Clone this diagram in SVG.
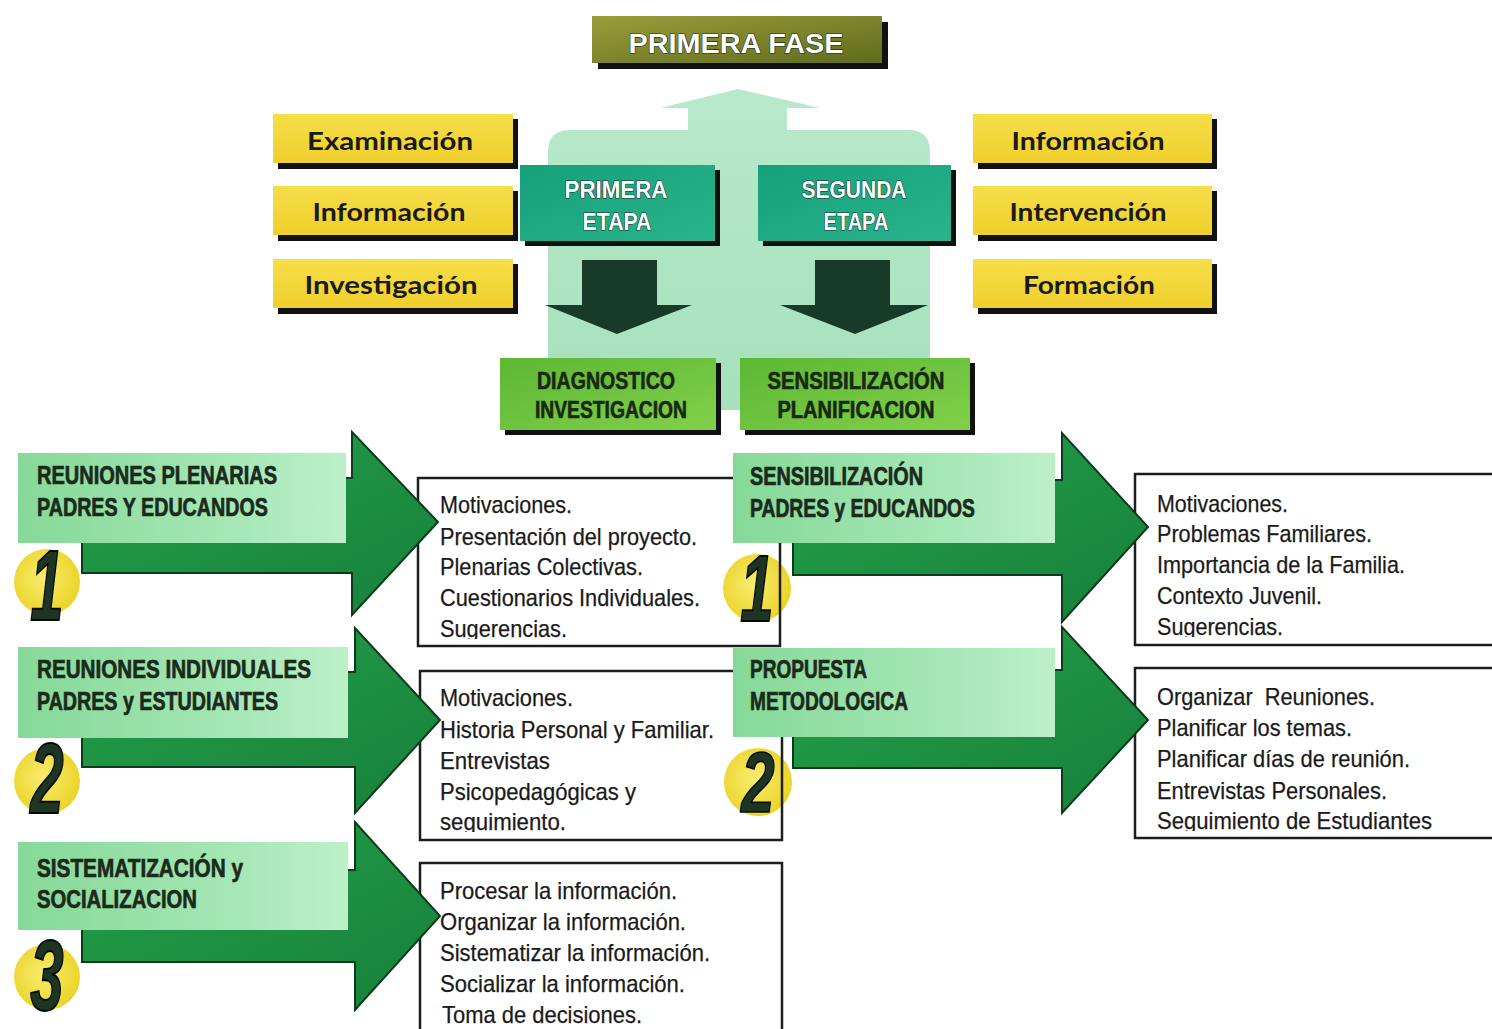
<svg xmlns="http://www.w3.org/2000/svg" width="1492" height="1029" viewBox="0 0 1492 1029">
<defs>
<linearGradient id="gFase" x1="0" y1="0" x2="1" y2="1"><stop offset="0" stop-color="#9c9d3a"/><stop offset="1" stop-color="#5f6c1d"/></linearGradient>
<linearGradient id="gEtapa" x1="0" y1="0" x2="1" y2="1"><stop offset="0" stop-color="#16a07a"/><stop offset="1" stop-color="#2ab48c"/></linearGradient>
<linearGradient id="gDiag" x1="0" y1="0" x2="1" y2="1"><stop offset="0" stop-color="#5cb733"/><stop offset="1" stop-color="#82d04a"/></linearGradient>
<linearGradient id="gYel" x1="0" y1="0" x2="0" y2="1"><stop offset="0" stop-color="#f6de4a"/><stop offset="1" stop-color="#efcf2c"/></linearGradient>
<linearGradient id="gHdr" x1="0" y1="0" x2="1" y2="0"><stop offset="0" stop-color="#86d898"/><stop offset="0.7" stop-color="#a8e8b8"/><stop offset="1" stop-color="#bdf0c9"/></linearGradient>
<linearGradient id="gArr" x1="0" y1="0" x2="1" y2="1"><stop offset="0" stop-color="#25a04c"/><stop offset="1" stop-color="#17803a"/></linearGradient>
<linearGradient id="gBack" x1="0" y1="0" x2="0" y2="1"><stop offset="0" stop-color="#b9e9cb"/><stop offset="1" stop-color="#a6e0bc"/></linearGradient>
<radialGradient id="gCirc" cx="0.45" cy="0.45" r="0.6"><stop offset="0" stop-color="#f8ec70"/><stop offset="1" stop-color="#ead224"/></radialGradient>
<clipPath id="cL1"><rect x="418" y="478" width="362" height="161"/></clipPath>
<clipPath id="cL2"><rect x="420" y="671" width="362" height="161"/></clipPath>
<clipPath id="cL3"><rect x="420" y="863" width="362" height="166"/></clipPath>
<clipPath id="cR1"><rect x="1135" y="474" width="357" height="163"/></clipPath>
<clipPath id="cR2"><rect x="1135" y="668" width="357" height="163"/></clipPath>
</defs>
<style>
.sh{fill:#111}
.ytx{font-family:Lato,"Liberation Sans",Arial,sans-serif;font-weight:bold;font-size:25px;fill:#1a1a14;text-anchor:middle}
.wtx{font-family:"Liberation Sans",Arial,sans-serif;font-weight:bold;fill:#fff;stroke:#12302a;stroke-width:1.2;paint-order:stroke;text-anchor:middle}
.dtx{font-family:"Liberation Sans",Arial,sans-serif;font-weight:bold;font-size:23px;fill:#182812;stroke:#182812;stroke-width:0.6;text-anchor:middle}
.htx{font-family:"Liberation Sans",Arial,sans-serif;font-weight:bold;font-size:26px;fill:#1b2a1b;stroke:#1b2a1b;stroke-width:0.7}
.itx{font-family:"Liberation Sans Narrow","Liberation Sans",Arial,sans-serif;font-size:24px;fill:#1a1a1a;stroke:#1a1a1a;stroke-width:0.25}
.box{fill:none;stroke:#1e1e1e;stroke-width:2.5}
.arr{fill:url(#gArr);stroke:#0b3b1a;stroke-width:2;stroke-linejoin:miter}
.hdr{fill:url(#gHdr)}
.circ{fill:url(#gCirc)}
.num{font-family:"Liberation Sans",Arial,sans-serif;font-weight:bold;font-style:italic;font-size:100px;fill:#1f3523;stroke:#050a05;stroke-width:2;text-anchor:middle}
</style>
<rect width="1492" height="1029" fill="#fff"/>

<g id="fondo">
<path d="M548,152 Q548,130 570,130 L688,130 L688,108 L660,108 L738,89 L820,108 L787,108 L787,130 L908,130 Q930,130 930,152 L930,410 L548,410 Z" fill="url(#gBack)"/>
</g>

<g id="primera-fase">
<rect class="sh" x="598" y="22" width="290" height="47"/>
<rect x="592" y="16" width="290" height="47" fill="url(#gFase)"/>
<text class="wtx" x="736" y="53" font-size="27" textLength="215" lengthAdjust="spacingAndGlyphs" stroke-width="2">PRIMERA FASE</text>
</g>

<g id="y-examinacion">
<rect class="sh" x="278" y="119" width="240" height="50"/>
<rect x="273" y="114" width="240" height="49" fill="url(#gYel)"/>
<text class="ytx" x="390" y="150" textLength="166" lengthAdjust="spacingAndGlyphs">Examinación</text>
</g>
<g id="y-informacion-l">
<rect class="sh" x="278" y="191" width="240" height="50"/>
<rect x="273" y="186" width="240" height="49" fill="url(#gYel)"/>
<text class="ytx" x="389" y="221" textLength="153" lengthAdjust="spacingAndGlyphs">Información</text>
</g>
<g id="y-investigacion">
<rect class="sh" x="278" y="264" width="240" height="50"/>
<rect x="273" y="259" width="240" height="49" fill="url(#gYel)"/>
<text class="ytx" x="391" y="294" textLength="173" lengthAdjust="spacingAndGlyphs">Investigación</text>
</g>
<g id="y-informacion-r">
<rect class="sh" x="978" y="119" width="239" height="50"/>
<rect x="973" y="114" width="239" height="49" fill="url(#gYel)"/>
<text class="ytx" x="1088" y="150" textLength="153" lengthAdjust="spacingAndGlyphs">Información</text>
</g>
<g id="y-intervencion">
<rect class="sh" x="978" y="191" width="239" height="50"/>
<rect x="973" y="186" width="239" height="49" fill="url(#gYel)"/>
<text class="ytx" x="1088" y="221" textLength="157" lengthAdjust="spacingAndGlyphs">Intervención</text>
</g>
<g id="y-formacion">
<rect class="sh" x="978" y="264" width="239" height="50"/>
<rect x="973" y="259" width="239" height="49" fill="url(#gYel)"/>
<text class="ytx" x="1089" y="294" textLength="132" lengthAdjust="spacingAndGlyphs">Formación</text>
</g>

<g id="primera-etapa">
<rect class="sh" x="525" y="170" width="195" height="76"/>
<rect x="520" y="165" width="195" height="76" fill="url(#gEtapa)"/>
<text class="wtx" x="616" y="198" font-size="24" textLength="103" lengthAdjust="spacingAndGlyphs">PRIMERA</text>
<text class="wtx" x="617" y="230" font-size="24" textLength="69" lengthAdjust="spacingAndGlyphs">ETAPA</text>
</g>
<g id="segunda-etapa">
<rect class="sh" x="763" y="170" width="193" height="76"/>
<rect x="758" y="165" width="193" height="76" fill="url(#gEtapa)"/>
<text class="wtx" x="854" y="198" font-size="24" textLength="105" lengthAdjust="spacingAndGlyphs">SEGUNDA</text>
<text class="wtx" x="856" y="230" font-size="24" textLength="65" lengthAdjust="spacingAndGlyphs">ETAPA</text>
</g>

<g id="flechas-abajo" fill="#173a29">
<path d="M582,260 L657,260 L657,305 L692,305 L617,334 L545,305 L582,305 Z"/>
<path d="M815,260 L890,260 L890,305 L928,305 L855,334 L780,305 L815,305 Z"/>
</g>

<g id="diagnostico">
<rect class="sh" x="505" y="363" width="216" height="72"/>
<rect x="500" y="358" width="216" height="72" fill="url(#gDiag)"/>
<text class="dtx" x="606" y="389" textLength="138" lengthAdjust="spacingAndGlyphs">DIAGNOSTICO</text>
<text class="dtx" x="611" y="418" textLength="152" lengthAdjust="spacingAndGlyphs">INVESTIGACION</text>
</g>
<g id="sensibilizacion">
<rect class="sh" x="745" y="363" width="230" height="72"/>
<rect x="740" y="358" width="230" height="72" fill="url(#gDiag)"/>
<text class="dtx" x="856" y="389" textLength="177" lengthAdjust="spacingAndGlyphs">SENSIBILIZACIÓN</text>
<text class="dtx" x="856" y="418" textLength="157" lengthAdjust="spacingAndGlyphs">PLANIFICACION</text>
</g>

<g id="num-r1">
<circle class="circ" cx="757" cy="588" r="34"/>
<text class="num" transform="translate(757,621) scale(0.6,0.95)">1</text>
</g>
<g id="num-r2">
<circle class="circ" cx="758" cy="782" r="34"/>
<text class="num" transform="translate(758,812) scale(0.6,0.85)">2</text>
</g>

<g id="caja-l1">
<rect class="box" x="418" y="478" width="362" height="168"/>
<g clip-path="url(#cL1)" class="itx">
<text x="440" y="513" textLength="132" lengthAdjust="spacingAndGlyphs">Motivaciones.</text>
<text x="440" y="545" textLength="257" lengthAdjust="spacingAndGlyphs">Presentación del proyecto.</text>
<text x="440" y="575" textLength="203" lengthAdjust="spacingAndGlyphs">Plenarias Colectivas.</text>
<text x="440" y="606" textLength="260" lengthAdjust="spacingAndGlyphs">Cuestionarios Individuales.</text>
<text x="440" y="637" textLength="127" lengthAdjust="spacingAndGlyphs">Sugerencias.</text>
</g>
</g>
<g id="caja-l2">
<rect class="box" x="420" y="671" width="362" height="169"/>
<g clip-path="url(#cL2)" class="itx">
<text x="440" y="706" textLength="133" lengthAdjust="spacingAndGlyphs">Motivaciones.</text>
<text x="440" y="738" textLength="274" lengthAdjust="spacingAndGlyphs">Historia Personal y Familiar.</text>
<text x="440" y="769" textLength="110" lengthAdjust="spacingAndGlyphs">Entrevistas</text>
<text x="440" y="800" textLength="196" lengthAdjust="spacingAndGlyphs">Psicopedagógicas y</text>
<text x="440" y="830" textLength="126" lengthAdjust="spacingAndGlyphs">seguimiento.</text>
</g>
</g>
<g id="caja-l3">
<rect class="box" x="420" y="863" width="362" height="190"/>
<g clip-path="url(#cL3)" class="itx">
<text x="440" y="899" textLength="237" lengthAdjust="spacingAndGlyphs">Procesar la información.</text>
<text x="440" y="930" textLength="246" lengthAdjust="spacingAndGlyphs">Organizar la información.</text>
<text x="440" y="961" textLength="270" lengthAdjust="spacingAndGlyphs">Sistematizar la información.</text>
<text x="440" y="992" textLength="245" lengthAdjust="spacingAndGlyphs">Socializar la información.</text>
<text x="442" y="1023" textLength="200" lengthAdjust="spacingAndGlyphs">Toma de decisiones.</text>
</g>
</g>
<g id="caja-r1">
<rect class="box" x="1135" y="474" width="380" height="171"/>
<g clip-path="url(#cR1)" class="itx">
<text x="1157" y="512" textLength="131" lengthAdjust="spacingAndGlyphs">Motivaciones.</text>
<text x="1157" y="542" textLength="215" lengthAdjust="spacingAndGlyphs">Problemas Familiares.</text>
<text x="1157" y="573" textLength="248" lengthAdjust="spacingAndGlyphs">Importancia de la Familia.</text>
<text x="1157" y="604" textLength="165" lengthAdjust="spacingAndGlyphs">Contexto Juvenil.</text>
<text x="1157" y="635" textLength="126" lengthAdjust="spacingAndGlyphs">Sugerencias.</text>
</g>
</g>
<g id="caja-r2">
<rect class="box" x="1135" y="668" width="380" height="170"/>
<g clip-path="url(#cR2)" class="itx">
<text x="1157" y="705" textLength="218" lengthAdjust="spacingAndGlyphs" xml:space="preserve">Organizar  Reuniones.</text>
<text x="1157" y="736" textLength="195" lengthAdjust="spacingAndGlyphs">Planificar los temas.</text>
<text x="1157" y="767" textLength="253" lengthAdjust="spacingAndGlyphs">Planificar días de reunión.</text>
<text x="1157" y="799" textLength="230" lengthAdjust="spacingAndGlyphs">Entrevistas Personales.</text>
<text x="1157" y="829" textLength="275" lengthAdjust="spacingAndGlyphs">Seguimiento de Estudiantes</text>
</g>
</g>

<g id="conectores">
<path class="arr" d="M82,478 L352,478 L352,432 L438,522 L352,615 L352,573 L82,573 Z"/>
<path class="arr" d="M82,672 L355,672 L355,628 L440,720 L355,813 L355,767 L82,767 Z"/>
<path class="arr" d="M82,870 L355,870 L355,822 L440,916 L355,1010 L355,962 L82,962 Z"/>
<path class="arr" d="M793,480 L1062,480 L1062,433 L1148,527 L1062,622 L1062,575 L793,575 Z"/>
<path class="arr" d="M793,670 L1062,670 L1062,627 L1148,720 L1062,813 L1062,768 L793,768 Z"/>
</g>

<g id="hdr-l1">
<rect class="hdr" x="18" y="453" width="328" height="90"/>
<text class="htx" x="37" y="484" textLength="240" lengthAdjust="spacingAndGlyphs">REUNIONES PLENARIAS</text>
<text class="htx" x="37" y="516" textLength="231" lengthAdjust="spacingAndGlyphs">PADRES Y EDUCANDOS</text>
</g>
<g id="hdr-l2">
<rect class="hdr" x="18" y="647" width="330" height="91"/>
<text class="htx" x="37" y="678" textLength="274" lengthAdjust="spacingAndGlyphs">REUNIONES INDIVIDUALES</text>
<text class="htx" x="37" y="710" textLength="241" lengthAdjust="spacingAndGlyphs">PADRES y ESTUDIANTES</text>
</g>
<g id="hdr-l3">
<rect class="hdr" x="18" y="842" width="330" height="88"/>
<text class="htx" x="37" y="877" textLength="206" lengthAdjust="spacingAndGlyphs">SISTEMATIZACIÓN y</text>
<text class="htx" x="37" y="908" textLength="160" lengthAdjust="spacingAndGlyphs">SOCIALIZACION</text>
</g>
<g id="hdr-r1">
<rect class="hdr" x="733" y="453" width="322" height="90"/>
<text class="htx" x="750" y="485" textLength="173" lengthAdjust="spacingAndGlyphs">SENSIBILIZACIÓN</text>
<text class="htx" x="750" y="517" textLength="225" lengthAdjust="spacingAndGlyphs">PADRES y EDUCANDOS</text>
</g>
<g id="hdr-r2">
<rect class="hdr" x="733" y="648" width="322" height="89"/>
<text class="htx" x="750" y="678" textLength="117" lengthAdjust="spacingAndGlyphs">PROPUESTA</text>
<text class="htx" x="750" y="710" textLength="158" lengthAdjust="spacingAndGlyphs">METODOLOGICA</text>
</g>

<g id="num-l1">
<circle class="circ" cx="47" cy="582" r="33"/>
<text class="num" transform="translate(47,620) scale(0.6,1)">1</text>
</g>
<g id="num-l2">
<circle class="circ" cx="47" cy="781" r="33"/>
<text class="num" transform="translate(47,813) scale(0.6,1)">2</text>
</g>
<g id="num-l3">
<circle class="circ" cx="47" cy="977" r="33"/>
<text class="num" transform="translate(47,1010) scale(0.6,1)">3</text>
</g>
</svg>
